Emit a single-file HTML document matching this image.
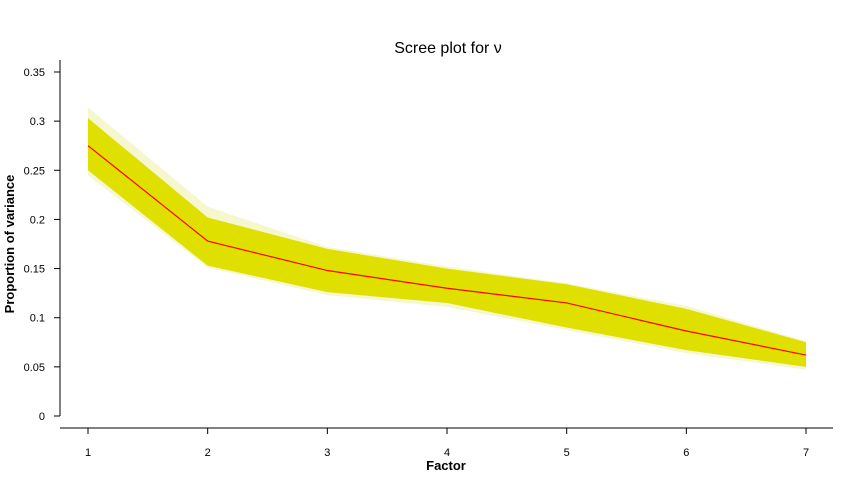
<!DOCTYPE html>
<html><head><meta charset="utf-8"><style>
body{margin:0;background:#fff}
svg{display:block;font-family:"Liberation Sans",sans-serif}
</style></head><body>
<svg id="c" width="864" height="504"></svg>
<script>
const factors=[1,2,3,4,5,6,7];
const meanVals=[0.275,0.178,0.148,0.130,0.115,0.0865,0.062];
const denseUpper=[0.303,0.202,0.170,0.150,0.134,0.109,0.075];
const denseLower=[0.250,0.153,0.126,0.115,0.090,0.067,0.050];
const outerUpper=[0.314,0.213,0.172,0.152,0.135,0.112,0.076];
const outerLower=[0.245,0.151,0.123,0.111,0.0875,0.064,0.047];
const yTicks=[0,0.05,0.1,0.15,0.2,0.25,0.3,0.35];
const yTickLabels=["0","0.05","0.1","0.15","0.2","0.25","0.3","0.35"];

const NS="http://www.w3.org/2000/svg";
const svg=document.getElementById('c');
const x=f=>88+(f-1)*119.67;
const y=v=>416-v*982.9;
function mk(t,a,p){const e=document.createElementNS(NS,t);for(const k in a)e.setAttribute(k,a[k]);(p||svg).appendChild(e);return e;}
function band(up,lo,fill,name){
  let pts=factors.map((f,i)=>x(f)+","+y(up[i]));
  pts=pts.concat(factors.map((f,i)=>x(f)+","+y(lo[i])).reverse());
  const p=mk('polygon',{points:pts.join(' '),fill:fill});
  
  
}
band(outerUpper,outerLower,'#f6f6cf','outer-band');
band(denseUpper,denseLower,'#dfdf00','dense-band');
const line=mk('polyline',{points:factors.map((f,i)=>x(f)+","+y(meanVals[i])).join(' '),fill:'none',stroke:'#ff0000','stroke-width':1.2});



const ya=mk('line',{x1:60,y1:y(0.35)-12,x2:60,y2:416,stroke:'#000'});


yTicks.forEach((v,i)=>{
  mk('line',{x1:54,x2:60,y1:y(v),y2:y(v),stroke:'#000'});
  const t=mk('text',{x:45,y:y(v)+4,'font-size':11,'text-anchor':'end'});
  t.textContent=yTickLabels[i];
  
  
});
const xa=mk('line',{x1:60,y1:428,x2:833,y2:428,stroke:'#000'});


factors.forEach(f=>{
  mk('line',{x1:x(f),x2:x(f),y1:428,y2:434,stroke:'#000'});
  const t=mk('text',{x:x(f),y:456,'font-size':11,'text-anchor':'middle'});
  t.textContent=String(f);
  
  
});
const xt=mk('text',{x:446,y:470,'font-size':13,'font-weight':'bold','text-anchor':'middle'});
xt.textContent='Factor';


const yt=mk('text',{x:14,y:244,'font-size':13,'font-weight':'bold','text-anchor':'middle',transform:'rotate(-90 14 244)'});
yt.textContent='Proportion of variance';


const tt=mk('text',{x:448,y:53,'font-size':16,'text-anchor':'middle'});
tt.textContent='Scree plot for ν';


</script>
</body></html>
